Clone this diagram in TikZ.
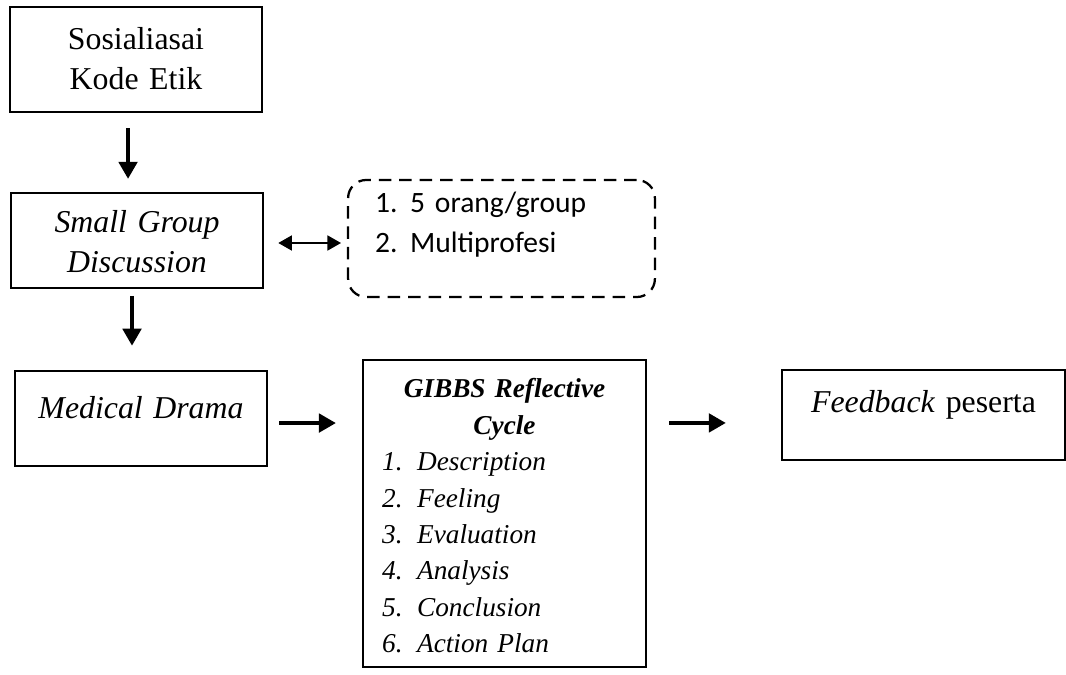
\documentclass[tikz,border=0pt]{standalone}
\usepackage{fontspec}
\setmainfont{Liberation Serif}
\newfontfamily\calibri{Carlito}
\usetikzlibrary{arrows.meta}
\newcommand{\gibbsitem}[2]{\hspace*{8.4pt}\makebox[15.4pt][l]{#1.}#2\par}
\tikzset{
  flowbox/.style={draw, line width=1pt, inner sep=0pt, align=center,
                  font=\fontsize{14}{17.6}\selectfont},
  notebox/.style={draw, line width=1pt, dash pattern=on 5.5pt off 3.5pt,
                  rounded corners=8pt, inner xsep=11.9pt, inner ysep=0pt, align=left,
                  font=\calibri\fontsize{13}{17.2}\selectfont},
  listbox/.style={draw, line width=1pt, inner sep=0pt,
                  font=\fontsize{12}{16}\selectfont\itshape},
  flowarrow/.style={line width=2pt, -{Triangle[width=8pt,length=7.5pt]}},
  linkarrow/.style={line width=1.1pt,
                  {Triangle[width=6.5pt,length=6pt]}-{Triangle[width=6.5pt,length=6pt]}},
}
\begin{document}
\begin{tikzpicture}[x=0.44pt,y=-0.44pt]
  \useasboundingbox (0,0) rectangle (1066,675);
  % left column
  \node[flowbox, text width=110.9pt, text height=18.9pt, text depth=27.3pt] (sos) at (136,59.5)
    {Sosialiasai\\Kode Etik};
  \node[flowbox, text width=110.9pt, text height=17.2pt, text depth=24.6pt] (sgd) at (137,240.5)
    {\textit{Small Group}\\\textit{Discussion}};
  \node[flowbox, text width=110.9pt, text height=20.7pt, text depth=21.1pt] (med) at (141,418.5)
    {\textit{Medical Drama}};
  % group note
  \node[notebox, text width=111.2pt, text height=14.5pt, text depth=37pt] (note) at (501.5,238.5)
    {\makebox[15.4pt][l]{1.}5 orang/group\\\makebox[15.4pt][l]{2.}Multiprofesi};
  % reflection and feedback
  \node[listbox, text width=124.5pt, text height=16.7pt, text depth=118.4pt] (gibbs) at (504.5,513.5)
    {{\centering\bfseries GIBBS Reflective\\ Cycle\par}
     \gibbsitem{1}{Description}
     \gibbsitem{2}{Feeling}
     \gibbsitem{3}{Evaluation}
     \gibbsitem{4}{Analysis}
     \gibbsitem{5}{Conclusion}
     \gibbsitem{6}{Action Plan}};
  \node[flowbox, text width=124.5pt, text height=18.9pt, text depth=20.7pt] (fb) at (923.5,415)
    {\textit{Feedback} peserta};
  % arrows
  \draw[flowarrow, shorten <=6.6pt, shorten >=5.7pt]
    ([xshift=-3.5pt]sos.south) -- ([xshift=-3.5pt]sos.south |- sgd.north);
  \draw[flowarrow, shorten <=3pt, shorten >=10.6pt]
    ([xshift=-2.2pt]sgd.south) -- ([xshift=-2.2pt]sgd.south |- med.north);
  \draw[linkarrow, shorten <=6.2pt, shorten >=2.6pt]
    ([yshift=-1.1pt]sgd.east) -- ([yshift=-1.1pt]sgd.east -| note.west);
  \draw[flowarrow, shorten <=4.8pt, shorten >=11.4pt]
    ([yshift=-2pt]med.east) -- ([yshift=-2pt]med.east -| gibbs.west);
  \draw[flowarrow, shorten <=9.7pt, shorten >=24.2pt]
    ([yshift=-3.5pt]fb.west -| gibbs.east) -- ([yshift=-3.5pt]fb.west);
\end{tikzpicture}
\end{document}
